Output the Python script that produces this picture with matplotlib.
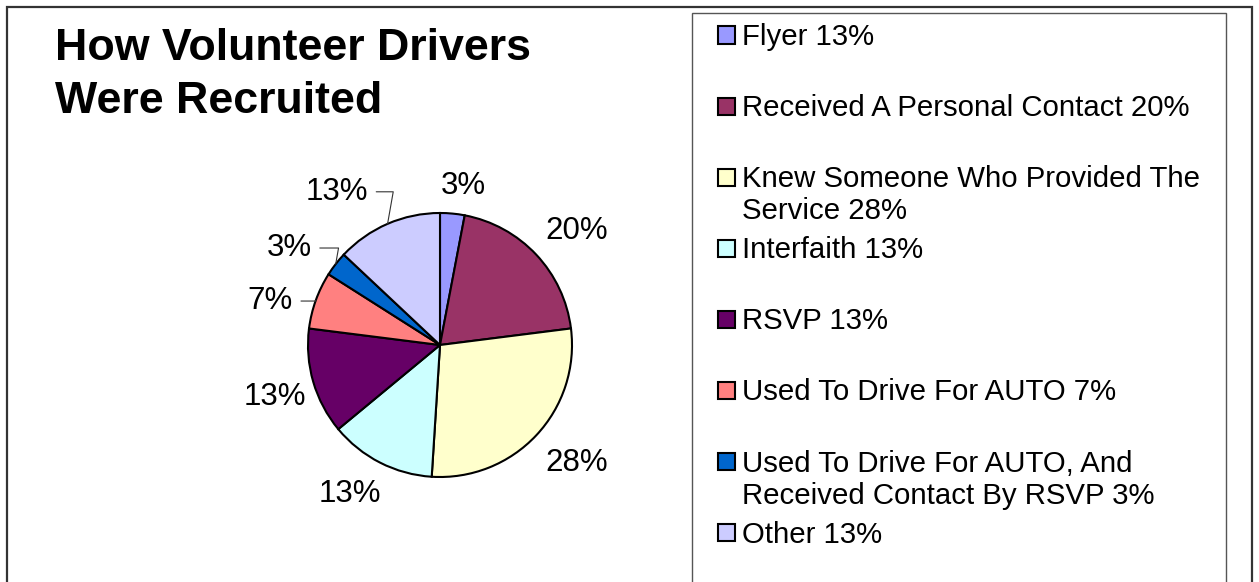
import matplotlib.pyplot as plt
from matplotlib.patches import Rectangle
import numpy as np

plt.rcParams['font.family'] = ['Liberation Sans', 'DejaVu Sans']

# data
title = 'How Volunteer Drivers\nWere Recruited'
categories = ['Flyer', 'Received A Personal Contact', 'Knew Someone Who Provided The\nService',
              'Interfaith', 'RSVP', 'Used To Drive For AUTO',
              'Used To Drive For AUTO, And\nReceived Contact By RSVP', 'Other']
shares = [3, 20, 28, 13, 13, 7, 3, 13]
legend_pct = [13, 20, 28, 13, 13, 7, 3, 13]   # legend shows 13% for Flyer
colors = ['#9999FF', '#993366', '#FFFFCC', '#CCFFFF', '#660066', '#FF8080', '#0066CC', '#CCCCFF']

# label placement tweaks (radial distance, angle shift in degrees)
lab_dist = [1.22, 1.35, 1.37, 1.32, 1.31, 1.33, 1.36, 1.40]
lab_shift = [-2.8, -3.4, 2.5, -4.0, 1.3, 5.3, 5.1, 10.6]
leader = [False, False, False, False, False, True, True, True]

W, H = 1259, 582
fig = plt.figure(figsize=(W / 100, H / 100), dpi=100)

# outer chart frame and legend frame
fig.add_artist(Rectangle((7 / W, -0.05), (1252 - 7) / W, 1 - 7 / H + 0.05,
                         transform=fig.transFigure, fill=False, ec='#333333', lw=1.6))
fig.add_artist(Rectangle((692 / W, -0.05), (1226 - 692) / W, 1 - 13 / H + 0.05,
                         transform=fig.transFigure, fill=False, ec='#555555', lw=1.0))

fig.text(55 / W, 1 - 28 / H, title, fontsize=32.2, fontweight='bold', va='top', ha='left',
         linespacing=1.36)

cx, cy, r = 440, 345, 132
ax = fig.add_axes([(cx - r) / W, (H - cy - r) / H, 2 * r / W, 2 * r / H])
wedges, _ = ax.pie(shares, colors=colors, startangle=90, counterclock=False,
                   wedgeprops=dict(edgecolor='black', linewidth=1.5))
ax.set_xlim(-1, 1)
ax.set_ylim(-1, 1)
ax.set_aspect('equal')
ax.axis('off')

for w, s, d, da, ld in zip(wedges, shares, lab_dist, lab_shift, leader):
    mid = np.deg2rad((w.theta1 + w.theta2) / 2)
    ang = mid + np.deg2rad(da)
    pos = (d * np.cos(ang), d * np.sin(ang))
    if ld:
        edge = (np.cos(mid), np.sin(mid))
        ax.annotate(f'{s}%', xy=edge, xytext=pos, fontsize=22.5, ha='center', va='center',
                    annotation_clip=False,
                    arrowprops=dict(arrowstyle='-', lw=0.8, color='#333333', relpos=(1, 0.5),
                                    shrinkA=4, shrinkB=0,
                                    connectionstyle='angle,angleA=0,angleB=80,rad=0'))
    else:
        ax.text(pos[0], pos[1], f'{s}%', fontsize=22.5, ha='center', va='center')

# legend, drawn Excel style in fixed slots
y0, pitch = 35, 71.1
for i, (cat, p, c) in enumerate(zip(categories, legend_pct, colors)):
    y = 1 - (y0 + i * pitch) / H
    fig.add_artist(Rectangle((718 / W, y - 8.5 / H), 17 / W, 17 / H, transform=fig.transFigure,
                             fc=c, ec='black', lw=1.5))
    fig.text(742 / W, y + 12 / H, f'{cat} {p}%', fontsize=21.2, va='top', ha='left',
             linespacing=1.19)

fig.savefig('out.png', dpi=100)
